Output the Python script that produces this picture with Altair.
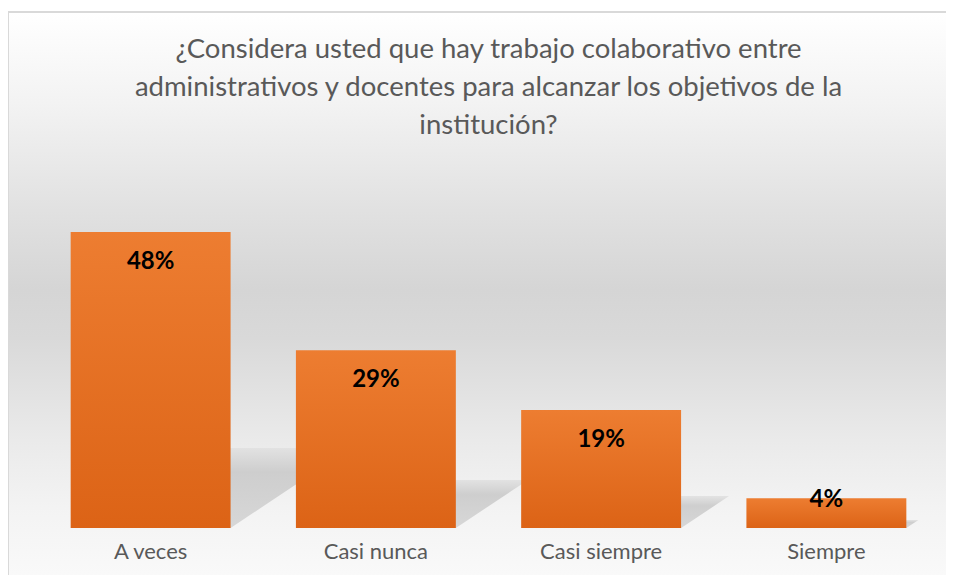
import altair as alt
import pandas as pd

categories = ["A veces", "Casi nunca", "Casi siempre", "Siempre"]
values = [47.6, 28.6, 19.0, 4.8]
labels = ["48%", "29%", "19%", "4%"]
title_lines = [
    "¿Considera usted que hay trabajo colaborativo entre",
    "administrativos y docentes para alcanzar los objetivos de la",
    "institución?",
]

W, H = 901, 373
FONT = "Lato"

df = pd.DataFrame({"cat": categories, "value": values, "label": labels})

# perspective shadow polygons derived from the bar values
half = 0.355
rows = []
for i, (c, v) in enumerate(zip(categories, values)):
    a, b = i - half, i + half
    d = 0.0112 * v
    h = 0.27 * v
    rows += [
        dict(cat=c, sx=a, top=0, bot=0),
        dict(cat=c, sx=a + d, top=h, bot=0),
        dict(cat=c, sx=b, top=h, bot=0),
        dict(cat=c, sx=b + d, top=h, bot=h),
    ]
shadow_df = pd.DataFrame(rows)

yscale = alt.Scale(domain=[0, 60], nice=False, zero=True)

bg_grad = {
    "gradient": "linear", "x1": 0, "x2": 0, "y1": 0, "y2": 1,
    "stops": [
        {"offset": 0.0, "color": "#ffffff"},
        {"offset": 0.154, "color": "#f3f3f3"},
        {"offset": 0.33, "color": "#e2e2e2"},
        {"offset": 0.476, "color": "#d5d5d5"},
        {"offset": 0.56, "color": "#d9d9d9"},
        {"offset": 0.735, "color": "#eaeaea"},
        {"offset": 0.85, "color": "#f3f3f3"},
        {"offset": 1.0, "color": "#fbfbfb"},
    ],
}
bar_grad = {
    "gradient": "linear", "x1": 0, "x2": 0, "y1": 0, "y2": 1,
    "stops": [
        {"offset": 0.0, "color": "#ED7D31"},
        {"offset": 1.0, "color": "#DC6316"},
    ],
}
shadow_grad = {
    "gradient": "linear", "x1": 0, "x2": 0, "y1": 0, "y2": 1,
    "stops": [
        {"offset": 0.0, "color": "#e0e0e0"},
        {"offset": 0.3, "color": "#c8c8c8"},
        {"offset": 1.0, "color": "#d2d2d2"},
    ],
}

bg = alt.Chart(alt.Data(values=[{}])).mark_rect(
    fill=bg_grad, stroke="#d9d9d9", strokeWidth=2
).encode(
    x=alt.value(-30), x2=alt.value(960), y=alt.value(-143), y2=alt.value(440)
)

title = alt.Chart(alt.Data(values=[{}])).mark_text(
    text=title_lines, font=FONT, fontSize=27.5, color="#595959",
    lineHeight=38, align="center", baseline="middle",
).encode(x=alt.value(W / 2), y=alt.value(-105))

shadow = alt.Chart(shadow_df).mark_area(fill=shadow_grad, opacity=0.85).encode(
    x=alt.X("sx:Q", scale=alt.Scale(domain=[-0.5, 3.5], nice=False, zero=False), axis=None),
    y=alt.Y("top:Q", scale=yscale, axis=None),
    y2="bot:Q",
    detail="cat:N",
)

xenc = alt.X(
    "cat:N",
    sort=categories,
    scale=alt.Scale(paddingInner=0.29, paddingOuter=0.145),
    axis=alt.Axis(
        title=None, domain=False, ticks=False, labelAngle=0, zindex=2,
        labelFont=FONT, labelFontSize=22, labelColor="#595959", labelPadding=13,
    ),
)

bars = alt.Chart(df).mark_bar(fill=bar_grad).encode(
    x=xenc,
    y=alt.Y("value:Q", scale=yscale, axis=None),
)

text = alt.Chart(df).transform_calculate(
    ly="datum.value > 10 ? datum.value - 4.8 : datum.value - 0.3"
).mark_text(
    font=FONT, fontSize=24, fontWeight="bold", color="#000000", baseline="middle"
).encode(
    x=alt.X("cat:N", sort=categories, scale=alt.Scale(paddingInner=0.29, paddingOuter=0.145), axis=None),
    y=alt.Y("ly:Q", scale=yscale, axis=None),
    text="label:N",
)

chart = alt.layer(bg, title, shadow, bars, text).resolve_scale(x="independent").properties(
    width=W,
    height=H,
    autosize="none",
    padding={"left": 30, "top": 147, "right": 7, "bottom": 47},
    background="#ffffff",
).configure_view(stroke=None)

chart.save("out.html", embed_options={"renderer": "svg", "actions": False})
